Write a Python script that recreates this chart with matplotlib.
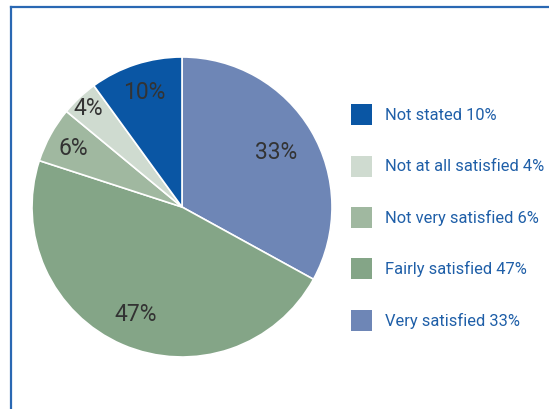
import matplotlib.pyplot as plt
import matplotlib.patches as mpatches
from matplotlib.lines import Line2D
import numpy as np

# survey satisfaction shares, drawn clockwise from 12 o'clock
labels = ["Very satisfied", "Fairly satisfied", "Not very satisfied",
          "Not at all satisfied", "Not stated"]
values = [33, 47, 6, 4, 10]
colors = ["#6e86b6", "#84a587", "#a0b8a0", "#cfdbd0", "#0a56a4"]
# how far out each percent sits (fraction of radius)
label_r = [0.73, 0.77, 0.83, 0.91, 0.81]

# legend is listed bottom-up relative to the pie order
legend_order = [4, 3, 2, 1, 0]

W, H = 549, 410
fig = plt.figure(figsize=(W / 100, H / 100), dpi=100)
plt.rcParams['font.family'] = ['Roboto', 'DejaVu Sans']

# pie axes: centre at (182, 208) px, radius 150 px
ax = fig.add_axes([32 / W, 1 - 358 / H, 300 / W, 300 / H])
wedges, _ = ax.pie(values, colors=colors, startangle=90, counterclock=False,
                   radius=1.0, wedgeprops=dict(edgecolor="white", linewidth=1.2))
ax.set_xlim(-1, 1)
ax.set_ylim(-1, 1)
ax.set_aspect("equal")
ax.axis("off")

for w, v, r in zip(wedges, values, label_r):
    ang = np.deg2rad((w.theta1 + w.theta2) / 2)
    ax.text(r * np.cos(ang), r * np.sin(ang), f"{v}%", ha="center", va="center",
            fontsize=16.5, color="#333333")

# legend, drawn by hand
ys = [115, 167, 218, 269, 321]
for y, i in zip(ys, legend_order):
    fig.add_artist(mpatches.Rectangle((351 / W, 1 - (y + 10.5) / H), 21 / W, 21 / H,
                                      transform=fig.transFigure, facecolor=colors[i],
                                      edgecolor="none"))
    fig.text(385 / W, 1 - y / H, f"{labels[i]} {values[i]}%", ha="left", va="center",
             fontsize=11.9, color="#1f5fa8")

# blue frame on top and left
fig.add_artist(Line2D([11 / W, 1], [1 - 8 / H, 1 - 8 / H], transform=fig.transFigure,
                      color="#2a68b3", linewidth=1.6))
fig.add_artist(Line2D([11 / W, 11 / W], [0, 1 - 8 / H], transform=fig.transFigure,
                      color="#2a68b3", linewidth=1.6))

fig.savefig("out.png", dpi=100)
